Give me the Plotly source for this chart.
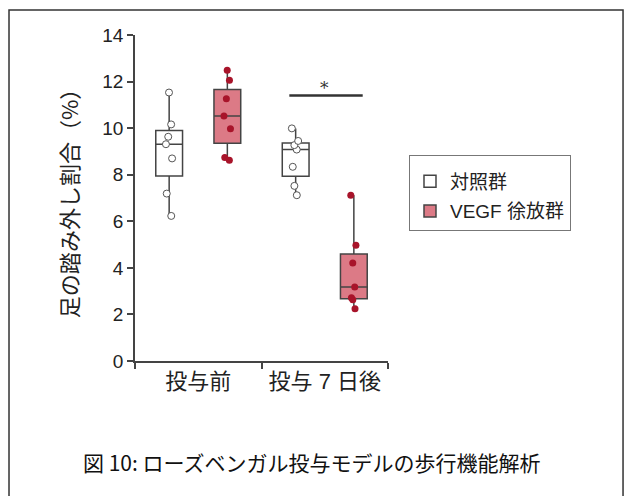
import plotly.graph_objects as go

categories = ["投与前", "投与 7 日後"]
series_names = ["対照群", "VEGF 徐放群"]

control_pre = [11.53, 10.16, 9.63, 9.31, 8.70, 7.19, 6.23]
control_post = [9.99, 9.45, 9.27, 9.08, 8.34, 7.52, 7.12]
vegf_pre = [12.49, 12.06, 11.26, 10.52, 9.97, 8.74, 8.62]
vegf_post = [7.12, 4.97, 4.21, 3.18, 2.72, 2.63, 2.24]

y_ticks = [0, 2, 4, 6, 8, 10, 12, 14]
y_title = "足の踏み外し割合（%）"
sig_y = 11.4
sig_text = "*"
caption = "図 10: ローズベンガル投与モデルの歩行機能解析"

FONT = "Liberation Sans, Noto Sans CJK JP, sans-serif"
LINE = "#444444"

fig = go.Figure()
fig.add_trace(go.Box(
    name=series_names[0], legendgroup="a",
    x=[categories[0]] * len(control_pre) + [categories[1]] * len(control_post),
    y=control_pre + control_post,
    fillcolor="white",
    line=dict(color=LINE, width=1.5),
    marker=dict(color="white", size=7, line=dict(color="#555555", width=1)),
    boxpoints="all", pointpos=0, jitter=0.3,
    whiskerwidth=0, quartilemethod="inclusive",
))
fig.add_trace(go.Box(
    name=series_names[1], legendgroup="b",
    x=[categories[0]] * len(vegf_pre) + [categories[1]] * len(vegf_post),
    y=vegf_pre + vegf_post,
    fillcolor="#dc7a86",
    line=dict(color=LINE, width=1.5),
    marker=dict(color="#a8142a", size=7, line=dict(width=0)),
    boxpoints="all", pointpos=0, jitter=0.3,
    whiskerwidth=0, quartilemethod="inclusive",
))

# significance bar over second group
fig.add_shape(type="line", xref="x", yref="y", x0=0.72, x1=1.30, y0=sig_y, y1=sig_y,
              line=dict(color="#333333", width=2.5))
fig.add_annotation(x=1.0, y=sig_y, xref="x", yref="y", text=sig_text, showarrow=False,
                   yanchor="bottom", yshift=-4, font=dict(size=17, color="#333333", family="DejaVu Serif"))

# caption
fig.add_annotation(x=0.70, y=-0.31, xref="paper", yref="paper", text=caption, showarrow=False,
                   xanchor="center", yanchor="middle",
                   font=dict(size=21, color="#111111", family="Noto Sans CJK JP"))

# outer frame
fig.add_shape(type="rect", xref="paper", yref="paper", x0=-0.498, x1=1.929, y0=-0.45, y1=1.077,
              line=dict(color="#333333", width=1.5), fillcolor="rgba(0,0,0,0)", layer="above")

fig.update_layout(
    width=625, height=496,
    margin=dict(l=135, r=237, t=35, b=135),
    paper_bgcolor="white", plot_bgcolor="white",
    boxmode="group", boxgap=0.08, boxgroupgap=0.54,
    font=dict(family=FONT, color="#222222"),
    showlegend=True,
    legend=dict(x=1.083, y=0.632, xanchor="left", yanchor="top",
                bordercolor="#777777", borderwidth=1,
                traceorder="grouped", tracegroupgap=2,
                title=dict(text=" ", font=dict(size=5)),
                font=dict(size=19, family=FONT, color="#222222"),
                itemclick=False),
    xaxis=dict(
        type="category", categoryorder="array", categoryarray=categories,
        range=[-0.5, 1.5], tickson="boundaries", ticks="outside", ticklen=6,
        tickcolor=LINE, tickwidth=1.5,
        showline=True, linecolor=LINE, linewidth=1.5, showgrid=False, zeroline=False,
        tickfont=dict(size=22, family=FONT, color="#222222"),
    ),
    yaxis=dict(
        range=[0, 14], tickvals=y_ticks, ticks="outside", ticklen=6,
        tickcolor=LINE, tickwidth=1.5,
        showline=True, linecolor=LINE, linewidth=1.5, showgrid=False, zeroline=False,
        tickfont=dict(size=19, family=FONT, color="#222222"),
        title=dict(text=y_title, standoff=18, font=dict(size=22, family="Noto Sans CJK JP", color="#222222")),
    ),
)

fig.write_html("out.html", config={"displayModeBar": False},
               post_script="document.body.style.margin='0';document.body.style.overflow='hidden';")
